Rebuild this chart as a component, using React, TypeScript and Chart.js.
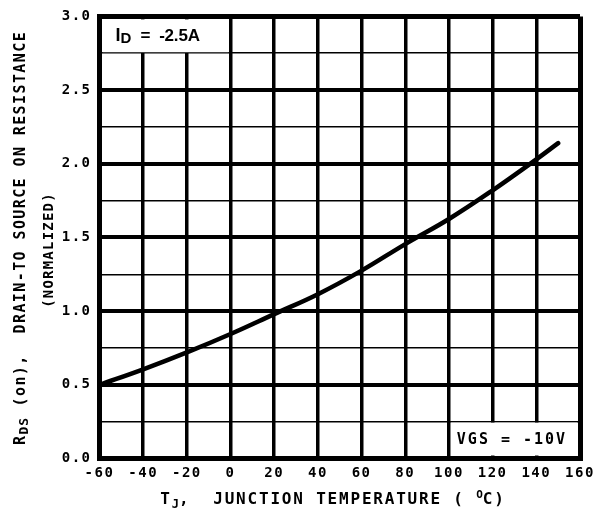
import React, { useEffect, useRef } from "react";
import { Chart, registerables } from "chart.js";

Chart.register(...registerables);

// ---- data ----
const temps = [-60, -40, -20, 0, 20, 40, 60, 80, 100, 120, 140, 150];
const rdsOn = [0.5, 0.605, 0.72, 0.845, 0.98, 1.115, 1.275, 1.455, 1.625, 1.82, 2.03, 2.14];
const xMin = -60;
const xMax = 160;
const xStep = 20;
const yMin = 0;
const yMax = 3;
const yStep = 0.25;
const yLabelStep = 0.5;

const MONO = "'DejaVu Sans Mono'";

type Seg = { t: string; font: string; dy?: number; ls?: string };

function drawRich(ctx: CanvasRenderingContext2D, segs: Seg[], x: number, y: number, align: "center" | "left") {
  const widths: number[] = [];
  let total = 0;
  for (const s of segs) {
    ctx.font = s.font;
    (ctx as any).letterSpacing = s.ls ?? "0px";
    const w = ctx.measureText(s.t).width;
    widths.push(w);
    total += w;
  }
  let cx = align === "center" ? x - total / 2 : x;
  ctx.textAlign = "left";
  ctx.textBaseline = "middle";
  segs.forEach((s, i) => {
    ctx.font = s.font;
    (ctx as any).letterSpacing = s.ls ?? "0px";
    ctx.fillText(s.t, cx, y + (s.dy || 0));
    cx += widths[i];
  });
  (ctx as any).letterSpacing = "0px";
}

const decorPlugin = {
  id: "decor",
  beforeDraw(chart: any) {
    (chart.ctx as any).letterSpacing = "1.5px";
  },
  beforeDatasetsDraw(chart: any) {
    const ctx: CanvasRenderingContext2D = chart.ctx;
    const xs = chart.scales.x;
    const ys = chart.scales.y;
    ctx.save();
    ctx.fillStyle = "#fff";
    // top-left annotation box
    const l1 = xs.getPixelForValue(-60) + 3;
    const r1 = xs.getPixelForValue(0) - 2;
    const t1 = ys.getPixelForValue(3) + 3;
    const b1 = ys.getPixelForValue(2.75) - 1;
    ctx.fillRect(l1, t1, r1 - l1, b1 - t1);
    // bottom-right annotation box
    const l2 = xs.getPixelForValue(100) + 2;
    const r2 = xs.getPixelForValue(160) - 3;
    const t2 = ys.getPixelForValue(0.25) + 1;
    const b2 = ys.getPixelForValue(0) - 3;
    ctx.fillRect(l2, t2, r2 - l2, b2 - t2);

    ctx.fillStyle = "#000";
    drawRich(
      ctx,
      [
        { t: "I", font: "bold 18px 'Liberation Sans'" },
        { t: "D", font: "bold 15px 'Liberation Sans'", dy: 3 },
        { t: "  =  -2.5A", font: "bold 17px 'Liberation Sans'", ls: "-0.2px" },
      ],
      l1 + 13,
      (t1 + b1) / 2,
      "left"
    );
    drawRich(
      ctx,
      [{ t: "VGS = -10V", font: `bold 15px ${MONO}`, ls: "2px" }],
      (l2 + r2) / 2 - 2,
      (t2 + b2) / 2 + 1,
      "center"
    );
    ctx.restore();
  },
  afterDraw(chart: any) {
    const ctx: CanvasRenderingContext2D = chart.ctx;
    ctx.save();
    ctx.fillStyle = "#000";
    // y title
    ctx.save();
    ctx.translate(21, 238);
    ctx.rotate(-Math.PI / 2);
    drawRich(
      ctx,
      [
        { t: "R", font: `bold 15px ${MONO}`, ls: "1.5px" },
        { t: "DS", font: `bold 13px ${MONO}`, ls: "1px", dy: 4 },
        { t: " (on),  DRAIN-TO SOURCE ON RESISTANCE", font: `bold 15px ${MONO}`, ls: "1.4px" },
      ],
      0,
      0,
      "center"
    );
    ctx.restore();
    ctx.save();
    ctx.translate(49, 250);
    ctx.rotate(-Math.PI / 2);
    drawRich(ctx, [{ t: "(NORMALIZED)", font: `bold 14px ${MONO}`, ls: "1.2px" }], 0, 0, "center");
    ctx.restore();
    // x title
    drawRich(
      ctx,
      [
        { t: "T", font: `bold 16px ${MONO}`, ls: "1.8px" },
        { t: "J", font: `bold 12px ${MONO}`, dy: 5 },
        { t: ",  JUNCTION TEMPERATURE ( ", font: `bold 16px ${MONO}`, ls: "1.8px" },
        { t: "O", font: `bold 11px ${MONO}`, dy: -5 },
        { t: "C)", font: `bold 16px ${MONO}`, ls: "1.8px" },
      ],
      333,
      500,
      "center"
    );
    ctx.restore();
  },
};

const isMajor = (v: number) => Math.abs(v / yLabelStep - Math.round(v / yLabelStep)) < 1e-9;

export default function App() {
  const ref = useRef<HTMLCanvasElement>(null);
  useEffect(() => {
    if (!ref.current) return;
    const chart = new Chart(ref.current, {
      type: "line",
      data: {
        datasets: [
          {
            data: temps.map((t, i) => ({ x: t, y: rdsOn[i] })),
            borderColor: "#000",
            borderWidth: 4.5,
            pointRadius: 0,
            tension: 0.4,
            borderCapStyle: "round",
            fill: false,
          },
        ],
      },
      options: {
        animation: false,
        responsive: true,
        maintainAspectRatio: false,
        layout: { padding: { top: 12.5, right: 30, left: 0, bottom: 0 } },
        plugins: { legend: { display: false }, tooltip: { enabled: false } },
        scales: {
          x: {
            type: "linear",
            min: xMin,
            max: xMax,
            ticks: {
              stepSize: xStep,
              autoSkip: false,
              maxRotation: 0,
              color: "#000",
              padding: 6,
              font: { family: MONO, size: 14, weight: "bold" },
            },
            grid: {
              color: "#000",
              drawTicks: false,
              lineWidth: (c: any) => {
                const v = c.tick ? c.tick.value : 0;
                return v === xMin || v === xMax ? 5 : 3.5;
              },
            },
            border: { display: true, color: "#000", width: 5 },
            afterFit: (s: any) => {
              s.height = 55.5;
            },
          },
          y: {
            min: yMin,
            max: yMax,
            ticks: {
              stepSize: yStep,
              autoSkip: false,
              color: "#000",
              padding: 8,
              font: { family: MONO, size: 14, weight: "bold" },
              callback: (v: any) => (isMajor(Number(v)) ? Number(v).toFixed(1) : ""),
            },
            grid: {
              color: "#000",
              drawTicks: false,
              lineWidth: (c: any) => {
                const v = c.tick ? c.tick.value : 0;
                if (v === yMin || v === yMax) return 5;
                return isMajor(v) ? 4 : 1.5;
              },
            },
            border: { display: true, color: "#000", width: 5 },
            afterFit: (s: any) => {
              s.width = 99.5;
            },
          },
        },
      } as any,
      plugins: [decorPlugin],
    });
    return () => chart.destroy();
  }, []);
  return (
    <div style={{ position: "fixed", left: 0, top: 0, width: 610, height: 514, background: "#fff" }}>
      <canvas ref={ref} />
    </div>
  );
}
